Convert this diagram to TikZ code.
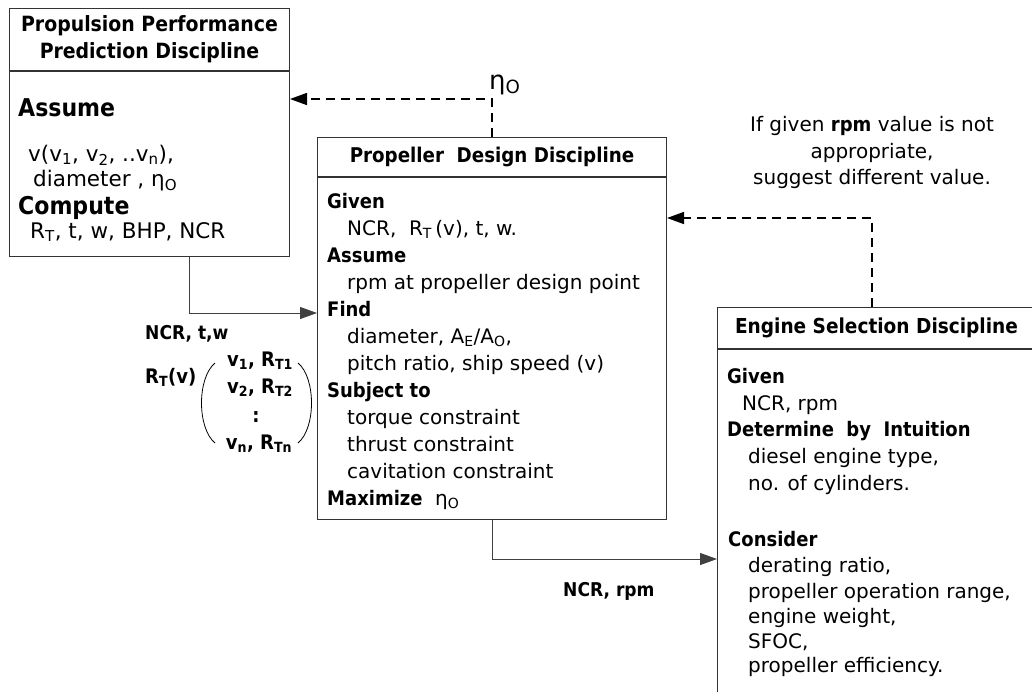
\documentclass[tikz,border=0pt]{standalone}
\usepackage{fontspec}
\setmainfont{DejaVu Sans}[BoldFont={DejaVu Sans Condensed Bold}]
\usetikzlibrary{arrows.meta}
\newcommand\fsz[2]{\fontsize{#1}{#2}\selectfont}
\newcommand\lo[1]{\textsubscript{#1}}
\begin{document}
\begin{tikzpicture}[x=1pt,y=-1pt,
  frame/.style={draw=black!80, line width=1pt, inner sep=0pt, anchor=north west},
  txt/.style={anchor=base west, inner sep=0pt, font=\fsz{20}{24}},
  hd/.style={anchor=base west, inner sep=0pt, font=\fsz{20}{24}\bfseries},
  big/.style={anchor=base west, inner sep=0pt, font=\fsz{21.5}{24}},
  bighd/.style={anchor=base west, inner sep=0pt, font=\fsz{24.5}{28}\bfseries},
  arr/.style={draw=black!75, line width=1pt, -{Triangle[length=17pt,width=12pt]}},
  dasharr/.style={draw=black, line width=1.6pt, dash pattern=on 9pt off 6pt,
                  -{Triangle[length=17pt,width=12pt]}}]
\clip (0,0) rectangle (1032,691);

% ---------- Propulsion performance prediction ----------
\node[frame, minimum width=280pt, minimum height=62pt, align=center,
      font=\fsz{21}{27}\bfseries] (pph) at (9,8)
      {Propulsion Performance\\Prediction Discipline};
\node[frame, minimum width=280pt, minimum height=185pt] (ppb) at (pph.south west) {};
\node[bighd] (ppa) at (18,116) {Assume};
\node[big]   (ppv) at (28,161) {v(v\lo{1}, v\lo{2}, ..v\lo{n}),};
\node[big]   (ppd) at (33,186) {diameter , η\lo{O}};
\node[bighd] (ppc) at (18,214) {Compute};
\node[big]   (ppr) at (30,238) {R\lo{T}, t, w, BHP, NCR};

% ---------- Propeller design ----------
\node[frame, minimum width=349pt, minimum height=39pt,
      font=\fsz{20.3}{24}\bfseries] (pdh) at (317,137) {Propeller\ \ Design Discipline};
\node[frame, minimum width=349pt, minimum height=342pt] (pdb) at (pdh.south west) {};
\node[hd]  (g1)  at (327,208) {Given};
\node[txt] (g2)  at (347,235) {NCR,\ \ R\lo{T}\,(v), t, w.};
\node[hd]  (g3)  at (327,262) {Assume};
\node[txt] (g4)  at (347,289) {rpm at propeller design point};
\node[hd]  (g5)  at (327,316) {Find};
\node[txt] (g6)  at (347,343) {diameter, A\lo{E}/A\lo{O},};
\node[txt] (g7)  at (347,370) {pitch ratio, ship speed (v)};
\node[hd]  (g8)  at (327,397) {Subject to};
\node[txt] (g9)  at (347,424) {torque constraint};
\node[txt] (g10) at (347,451) {thrust constraint};
\node[txt] (g11) at (347,478) {cavitation constraint};
\node[hd]  (g12) at (327,505) {Maximize\ \ \mdseries η\lo{O}};

% ---------- Engine selection ----------
\node[frame, minimum width=318pt, minimum height=41pt,
      font=\fsz{20.6}{24}\bfseries] (esh) at (717,307) {Engine Selection Discipline};
\node[frame, minimum width=318pt, minimum height=380pt] (esb) at (esh.south west) {};
\node[hd]  (e1)  at (727,383) {Given};
\node[txt] (e2)  at (742,410) {NCR, rpm};
\node[hd]  (e3)  at (727,436) {Determine\ \ by\ \ Intuition};
\node[txt] (e4)  at (748,463) {diesel engine type,};
\node[txt] (e5)  at (748,490) {no. of cylinders.};
\node[hd]  (e6)  at (728,546) {Consider};
\node[txt] (e7)  at (748,572) {derating ratio,};
\node[txt] (e8)  at (748,598) {propeller operation range,};
\node[txt] (e9)  at (748,623) {engine weight,};
\node[txt] (e10) at (748,648) {SFOC,};
\node[txt] (e11) at (748,672) {propeller efficiency.};

% ---------- note on rpm ----------
\node[txt, anchor=base] (n1) at (872,131) {If given \textbf{rpm} value is not};
\node[txt, anchor=base] (n2) at (872,158) {appropriate,};
\node[txt, anchor=base] (n3) at (872,184) {suggest different value.};

% ---------- data passed to the propeller design ----------
\node[hd, font=\fsz{19}{24}\bfseries] (ncr1) at (145,339) {NCR, t,w};
\node[hd] (rtv)  at (145,383) {R\lo{T}(v)};
\node[hd, anchor=base] (m1) at (260,366) {v\lo{1}, R\lo{T1}};
\node[hd, anchor=base] (m2) at (260,393) {v\lo{2}, R\lo{T2}};
\node[hd, anchor=base] (m3) at (256,422) {:};
\node[hd, anchor=base] (m4) at (259,449) {v\lo{n}, R\lo{Tn}};
\draw[line width=0.8pt] (215,363) .. controls (197,378) and (197,428) .. (215,443);
\draw[line width=0.8pt] (298,363) .. controls (316,378) and (316,428) .. (298,443);

\node[hd, font=\fsz{19}{24}\bfseries] (ncr2) at (563,596) {NCR, rpm};
\node[anchor=base west, inner sep=0pt, font=\fsz{26}{28}] (eta) at (489,89) {η\lo{O}};

% ---------- connectors ----------
\draw[arr] (ppb.south west) ++(180,0) |- (pdb.west |- 0,313);
\draw[arr] (pdb.south) |- (esb.west |- 0,559);
\draw[dasharr] (pdh.north) |- (ppb.east |- 0,99);
\draw[dasharr] (esh.north west) ++(155,0) |- (pdb.east |- 0,218);
\end{tikzpicture}
\end{document}
